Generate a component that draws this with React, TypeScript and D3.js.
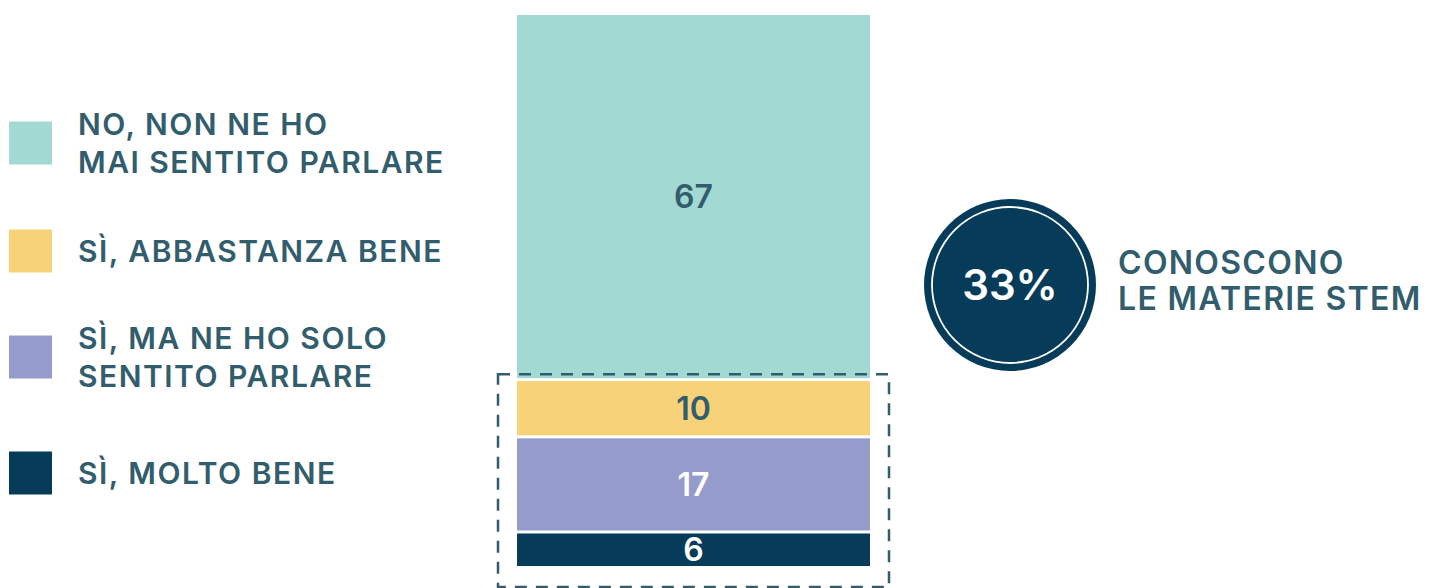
import React from "react";
import * as d3 from "d3";

const categories = [
  "NO, NON NE HO MAI SENTITO PARLARE",
  "SÌ, ABBASTANZA BENE",
  "SÌ, MA NE HO SOLO SENTITO PARLARE",
  "SÌ, MOLTO BENE",
];
const legendLines = [
  ["NO, NON NE HO", "MAI SENTITO PARLARE"],
  ["SÌ, ABBASTANZA BENE"],
  ["SÌ, MA NE HO SOLO", "SENTITO PARLARE"],
  ["SÌ, MOLTO BENE"],
];
const values = [67, 10, 17, 6];
const colors = ["#a2d9d3", "#f8d278", "#959bcb", "#063c5a"];
const labelColors = ["#325d6d", "#325d6d", "#ffffff", "#ffffff"];
const highlightValue = "33%";
const highlightLines = ["CONOSCONO", "LE MATERIE STEM"];

const W = 1432;
const H = 588;
const TEXT = "#325d6d";
const FONT = "Inter, 'Noto Sans', sans-serif";

export default function App() {
  const gap = 3;
  const barTop = 15;
  const barBottom = 566;
  const barX = 517;
  const barW = 353;
  const total = d3.sum(values);
  const usable = barBottom - barTop - gap * (values.length - 1);
  const y = d3.scaleLinear().domain([0, total]).range([0, usable]);

  const segs: { y0: number; h: number; v: number; i: number }[] = [];
  let cur = barTop;
  values.forEach((v, i) => {
    const h = y(v);
    segs.push({ y0: cur, h, v, i });
    cur += h + gap;
  });

  const boxTop = segs[1].y0 - 7;
  const boxBottom = 587;

  const legendY = [143, 251, 357, 473];
  const cx = 1010;
  const cy = 285;

  return (
    <svg
      width={W}
      height={H}
      style={{ position: "absolute", left: 0, top: 0, background: "#fff" }}
      fontFamily={FONT}
    >
      {categories.map((c, i) => {
        const lines = legendLines[i];
        const lh = 38;
        const startY = legendY[i] - ((lines.length - 1) * lh) / 2;
        return (
          <g key={c}>
            <rect x={9} y={legendY[i] - 21.5} width={43} height={43} fill={colors[i]} />
            {lines.map((l, j) => (
              <text
                key={j}
                x={78}
                y={startY + j * lh}
                dy="0.36em"
                fontSize={30}
                fontWeight={600}
                letterSpacing={1.5}
                fill={TEXT}
              >
                {l}
              </text>
            ))}
          </g>
        );
      })}

      {segs.map((s) => (
        <g key={s.i}>
          <rect x={barX} y={s.y0} width={barW} height={s.h} fill={colors[s.i]} />
          <text
            x={barX + barW / 2}
            y={s.y0 + s.h / 2}
            dy="0.36em"
            textAnchor="middle"
            fontSize={32}
            fontWeight={600}
            fill={labelColors[s.i]}
          >
            {s.v}
          </text>
        </g>
      ))}

      <rect
        x={498}
        y={boxTop}
        width={391}
        height={boxBottom - boxTop}
        fill="none"
        stroke={TEXT}
        strokeWidth={2.5}
        strokeDasharray="12,9"
      />

      <circle cx={cx} cy={cy} r={86} fill="#063c5a" />
      <circle cx={cx} cy={cy} r={78} fill="none" stroke="#fff" strokeWidth={1.8} />
      <text
        x={cx}
        y={cy}
        dy="0.36em"
        textAnchor="middle"
        fontSize={42}
        fontWeight={600}
        fill="#fff"
      >
        {highlightValue}
      </text>
      {highlightLines.map((l, j) => (
        <text
          key={j}
          x={1118}
          y={262 + j * 36}
          dy="0.36em"
          fontSize={32}
          fontWeight={600}
          letterSpacing={1.3}
          fill={TEXT}
        >
          {l}
        </text>
      ))}
    </svg>
  );
}
